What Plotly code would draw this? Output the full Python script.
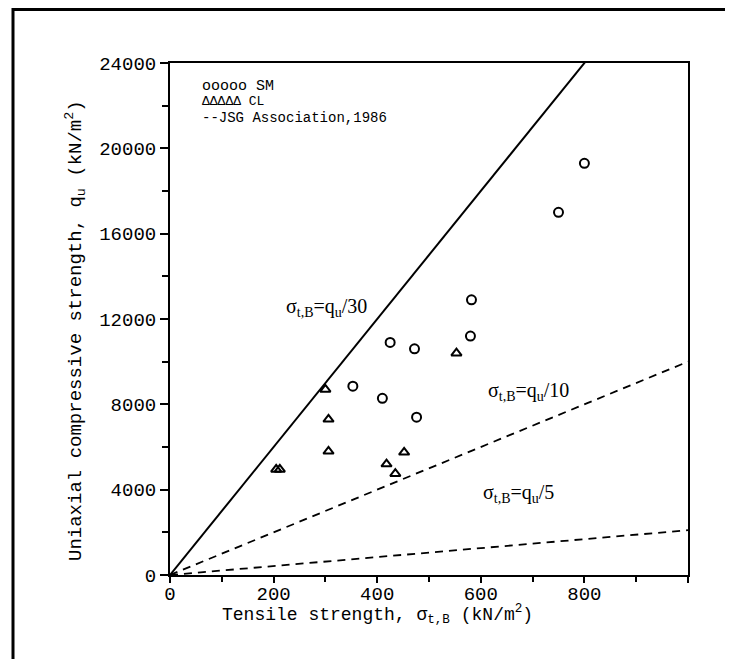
import plotly.graph_objects as go

# ---- data ----
sm_x = [800, 750, 582, 580, 425, 472, 353, 410, 476]
sm_y = [19300, 17000, 12900, 11200, 10900, 10600, 8850, 8280, 7400]
cl_x = [553, 300, 306, 306, 452, 205, 212, 418, 435]
cl_y = [10400, 8700, 7300, 5800, 5750, 4950, 4950, 5200, 4750]
line_x = [0, 1000]
ratio_solid = 30           # sigma = qu/30
ratio_dashed = [10, 2.1]   # drawn dashed lines (labelled qu/10, qu/5)
x_ticks = [0, 200, 400, 600, 800, 1000]
x_ticktext = ["0", "200", "400", "600", "800", ""]
y_ticks = [0, 4000, 8000, 12000, 16000, 20000, 24000]

FONT = "Liberation Mono, Courier New, monospace"
fig = go.Figure()

fig.add_trace(go.Scatter(x=line_x, y=[ratio_solid * v for v in line_x], mode="lines",
                         line=dict(color="black", width=2), showlegend=False))
for r in ratio_dashed:
    fig.add_trace(go.Scatter(x=line_x, y=[r * v for v in line_x], mode="lines",
                             line=dict(color="black", width=1.8, dash="8px,6px"), showlegend=False))

fig.add_trace(go.Scatter(x=sm_x, y=sm_y, mode="markers", showlegend=False,
                         marker=dict(symbol="circle-open", size=9, color="black", line=dict(width=2))))
fig.add_trace(go.Scatter(x=cl_x, y=cl_y, mode="markers", showlegend=False,
                         marker=dict(symbol="triangle-up-open", size=9, color="black", line=dict(width=2))))

ann = []
# legend texts
ann.append(dict(x=0.058, y=0.954, xref="paper", yref="paper", xanchor="left", yanchor="middle",
                text="ooooo SM", showarrow=False, font=dict(family=FONT, size=15, color="black")))
ann.append(dict(x=0.058, y=0.924, xref="paper", yref="paper", xanchor="left", yanchor="middle",
                text="ΔΔΔΔΔ CL", showarrow=False, font=dict(family=FONT, size=13, color="black")))
ann.append(dict(x=0.058, y=0.893, xref="paper", yref="paper", xanchor="left", yanchor="middle",
                text="--JSG Association,1986", showarrow=False, font=dict(family=FONT, size=14, color="black")))
# line labels
lab_font = dict(family="Liberation Serif, serif", size=20, color="black")
ann.append(dict(x=303, y=12520, text="σ<sub>t,B</sub>=q<sub>u</sub>/30", showarrow=False, font=lab_font))
ann.append(dict(x=693, y=8610, text="σ<sub>t,B</sub>=q<sub>u</sub>/10", showarrow=False, font=lab_font))
ann.append(dict(x=672, y=3810, text="σ<sub>t,B</sub>=q<sub>u</sub>/5", showarrow=False, font=lab_font))
# axis titles
ann.append(dict(x=0.40, y=-0.078, xref="paper", yref="paper", xanchor="center", yanchor="middle",
                text="Tensile strength, σ<sub>t,B</sub> (kN/m<sup>2</sup>)", showarrow=False,
                font=dict(family=FONT, size=18, color="black")))
ann.append(dict(x=-0.182, y=0.478, xref="paper", yref="paper", xanchor="center", yanchor="middle",
                text="Uniaxial compressive strength, q<sub>u</sub> (kN/m<sup>2</sup>)", showarrow=False,
                textangle=-90, font=dict(family=FONT, size=19, color="black")))

L, R, T, B = 162, 45, 55, 84
W, H = 725, 651
pw, ph = W - L - R, H - T - B
def px(xp): return (xp - L) / pw
def py(yp): return (H - B - yp) / ph

shapes = [
    dict(type="line", xref="paper", yref="paper", x0=px(5), x1=px(5), y0=py(0), y1=py(H),
         line=dict(color="black", width=3)),
    dict(type="line", xref="paper", yref="paper", x0=px(5), x1=px(W), y0=py(1.5), y1=py(1.5),
         line=dict(color="black", width=3)),
]

fig.update_layout(
    width=W, height=H, margin=dict(l=L, r=R, t=T, b=B),
    paper_bgcolor="white", plot_bgcolor="white",
    annotations=ann, shapes=shapes,
    font=dict(family=FONT, size=18, color="black"),
    xaxis=dict(range=[0, 1000], tickvals=x_ticks, ticktext=x_ticktext, showgrid=False, zeroline=False,
               showline=True, linecolor="black", linewidth=2, mirror=True,
               ticks="outside", ticklen=6, tickwidth=1.5, tickcolor="black", ticklabelstandoff=-6,
               minor=dict(dtick=100, ticks="outside", ticklen=5, tickwidth=1.5, tickcolor="black"),
               tickfont=dict(family=FONT, size=19, color="black")),
    yaxis=dict(range=[0, 24000], tickvals=y_ticks, tickformat="d", showgrid=False, zeroline=False,
               showline=True, linecolor="black", linewidth=2, mirror=True,
               ticks="outside", ticklen=8, tickwidth=1.5, tickcolor="black",
               minor=dict(dtick=2000, ticks="outside", ticklen=6, tickwidth=1.5, tickcolor="black"),
               tickfont=dict(family=FONT, size=19, color="black")),
)

fig.write_html("out.html")
